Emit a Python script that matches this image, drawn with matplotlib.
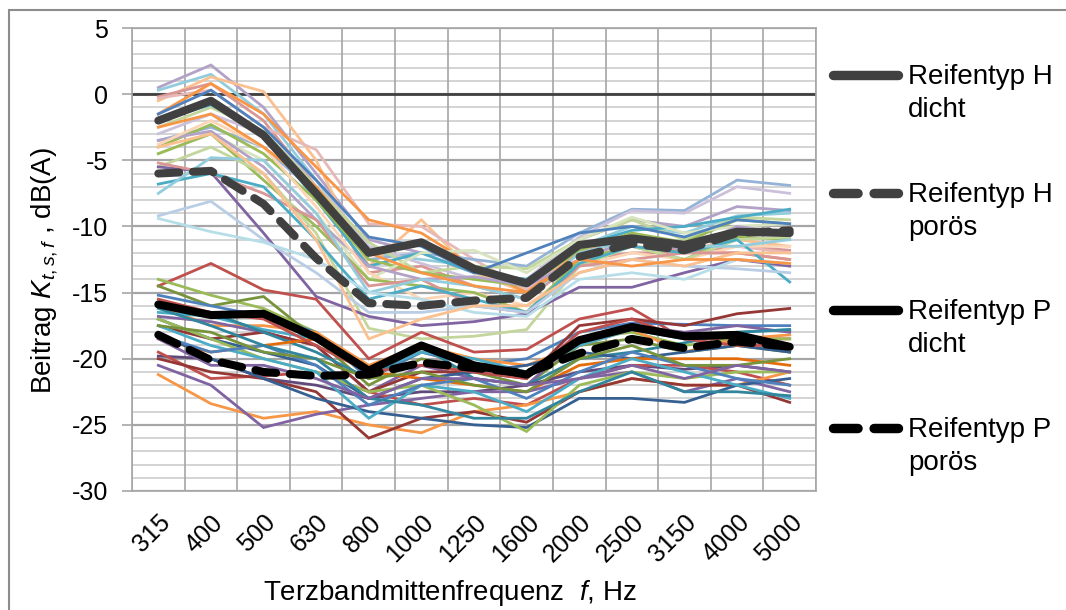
import matplotlib
matplotlib.use("Agg")
import matplotlib.pyplot as plt
from matplotlib.lines import Line2D
from matplotlib.patches import Rectangle
import numpy as np

plt.rcParams['font.family'] = ['Liberation Sans', 'DejaVu Sans']
plt.rcParams['mathtext.fontset'] = 'custom'
plt.rcParams['mathtext.it'] = 'Liberation Sans:italic'
plt.rcParams['mathtext.rm'] = 'Liberation Sans'

freqs = ["315", "400", "500", "630", "800", "1000", "1250", "1600",
         "2000", "2500", "3150", "4000", "5000"]

# individual tyre/surface spectra, tyre type H
h_curves = [
    ("#B3A2C7", [0.5, 2.2, -1.0, -6.0, -11.0, -12.0, -13.5, -14.0, -11.0, -9.5, -10.0, -8.5, -8.8]),
    ("#93CDDD", [0.3, 1.5, -1.5, -6.5, -12.0, -12.5, -13.0, -14.5, -11.5, -10.0, -10.5, -9.2, -9.0]),
    ("#FAC090", [-0.5, 1.3, 0.2, -5.0, -13.0, -9.5, -13.5, -15.0, -12.0, -11.5, -11.8, -11.0, -11.5]),
    ("#D99694", [-0.2, 0.8, -2.0, -7.0, -13.5, -13.0, -14.5, -15.5, -12.5, -12.0, -12.0, -11.5, -11.8]),
    ("#E6B9B8", [-0.3, 0.3, -2.5, -4.2, -9.8, -10.0, -12.5, -14.8, -12.0, -11.0, -11.5, -11.5, -12.0]),
    ("#F79646", [-1.5, 0.8, -1.5, -5.5, -9.5, -10.5, -13.0, -15.0, -12.0, -10.8, -12.0, -12.0, -12.5]),
    ("#95B3D7", [-3.5, -2.5, -4.0, -7.5, -12.5, -12.0, -12.5, -13.0, -10.5, -8.7, -8.8, -6.5, -6.9]),
    ("#CCC1DA", [-3.0, -1.5, -3.0, -6.5, -11.5, -12.8, -14.0, -14.0, -10.8, -8.8, -9.0, -7.0, -7.5]),
    ("#C3D69B", [-2.5, -1.0, -2.8, -7.0, -11.2, -13.5, -13.0, -13.2, -11.0, -9.5, -11.0, -9.3, -9.5]),
    ("#4BACC6", [-2.0, -0.8, -3.0, -8.0, -13.0, -12.0, -13.5, -14.0, -11.5, -10.3, -10.0, -9.3, -8.7]),
    ("#9BBB59", [-4.0, -2.3, -4.5, -8.0, -12.5, -13.5, -14.0, -14.5, -11.8, -10.5, -11.2, -9.5, -9.8]),
    ("#D7E4BD", [-4.5, -3.0, -5.0, -9.0, -14.0, -12.0, -11.8, -13.5, -11.0, -9.3, -10.5, -10.0, -9.8]),
    ("#B3A2C7", [-3.5, -2.8, -5.5, -9.5, -13.0, -14.0, -13.8, -14.5, -12.5, -11.0, -11.8, -10.0, -10.5]),
    ("#FCD5B5", [-3.8, -2.0, -4.0, -8.5, -13.5, -15.5, -15.0, -16.0, -13.0, -12.0, -12.5, -11.5, -11.5]),
    ("#9BBB59", [-4.5, -3.0, -6.5, -10.0, -14.0, -14.5, -15.0, -16.5, -12.5, -11.5, -12.5, -10.8, -11.0]),
    ("#C3D69B", [-5.5, -4.0, -6.0, -10.5, -17.7, -18.5, -18.3, -17.8, -13.0, -11.5, -12.5, -11.0, -10.8]),
    ("#8064A2", [-5.5, -5.9, -10.5, -15.3, -16.8, -17.5, -17.2, -16.6, -14.6, -14.6, -13.5, -12.5, -13.0]),
    ("#D99694", [-5.2, -6.0, -7.5, -9.5, -14.5, -14.0, -16.0, -16.5, -13.0, -12.5, -12.0, -12.0, -12.5]),
    ("#4BACC6", [-6.8, -6.0, -7.0, -11.0, -15.5, -14.5, -15.5, -16.5, -12.8, -11.5, -12.0, -11.0, -14.2]),
    ("#93CDDD", [-7.5, -4.8, -5.0, -9.0, -15.0, -14.0, -14.5, -15.5, -12.0, -11.0, -11.5, -11.5, -11.0]),
    ("#B9CDE5", [-9.2, -8.1, -11.0, -13.5, -16.5, -16.5, -16.0, -16.5, -13.5, -12.5, -13.0, -13.2, -13.5]),
    ("#B7DEE8", [-9.4, -10.4, -11.2, -12.5, -15.0, -15.5, -16.5, -16.8, -14.0, -13.5, -14.0, -12.5, -12.8]),
    ("#FAC090", [-4.0, -3.0, -6.0, -11.0, -18.5, -17.0, -16.0, -16.0, -13.5, -12.5, -13.0, -12.0, -12.0]),
    ("#F79646", [-2.5, -1.5, -4.0, -7.0, -12.0, -13.5, -14.5, -15.0, -12.5, -13.0, -12.5, -12.5, -12.8]),
    ("#4F81BD", [-1.5, 0.3, -2.5, -6.5, -10.8, -11.5, -13.5, -12.0, -10.5, -10.0, -10.8, -9.5, -9.8]),
]

# individual tyre/surface spectra, tyre type P
p_curves = [
    ("#C0504D", [-14.5, -12.8, -14.8, -15.5, -20.0, -18.0, -19.5, -19.3, -17.0, -16.2, -18.5, -18.5, -18.5]),
    ("#9BBB59", [-14.0, -15.2, -16.2, -18.0, -21.5, -19.5, -20.5, -21.5, -18.5, -18.0, -19.0, -18.5, -18.5]),
    ("#77933C", [-14.5, -16.0, -15.3, -18.5, -22.0, -20.0, -21.0, -22.0, -19.0, -18.5, -19.5, -19.0, -19.5]),
    ("#4F81BD", [-15.2, -16.0, -16.8, -18.0, -21.5, -19.5, -20.5, -20.0, -18.0, -17.3, -17.4, -17.5, -17.5]),
    ("#F79646", [-16.0, -17.5, -17.5, -18.0, -20.5, -19.0, -20.0, -20.5, -19.0, -17.8, -19.5, -18.5, -18.2]),
    ("#4BACC6", [-16.5, -16.8, -17.8, -18.5, -21.0, -19.5, -20.0, -21.0, -19.0, -17.8, -18.5, -18.0, -17.8]),
    ("#8064A2", [-16.8, -17.2, -18.0, -19.0, -22.5, -20.5, -21.5, -22.0, -18.5, -17.5, -18.0, -17.5, -18.0]),
    ("#953735", [-17.5, -18.5, -18.0, -19.0, -22.5, -21.0, -21.0, -21.5, -17.5, -17.0, -17.5, -16.6, -16.2]),
    ("#31859C", [-16.0, -16.5, -18.0, -19.5, -21.5, -19.0, -21.5, -22.0, -20.0, -19.5, -18.8, -18.0, -17.8]),
    ("#376092", [-17.0, -18.5, -19.5, -20.5, -23.0, -21.5, -21.0, -20.5, -19.5, -20.0, -19.5, -19.0, -19.5]),
    ("#E46C0A", [-18.5, -19.5, -19.0, -18.5, -21.0, -21.5, -22.0, -22.5, -20.5, -20.0, -20.0, -20.0, -20.5]),
    ("#604A7B", [-19.8, -20.0, -21.5, -22.0, -23.0, -22.5, -22.5, -22.0, -21.0, -20.5, -20.8, -20.5, -21.0]),
    ("#C0504D", [-19.5, -21.5, -21.3, -21.0, -22.5, -23.5, -23.0, -23.5, -21.5, -20.5, -20.5, -21.0, -22.0]),
    ("#F79646", [-21.2, -23.4, -24.5, -24.0, -25.0, -25.6, -24.0, -23.5, -22.5, -21.5, -22.0, -22.0, -21.0]),
    ("#8064A2", [-20.5, -22.0, -25.2, -24.2, -23.5, -23.0, -22.5, -22.5, -21.5, -21.0, -22.5, -21.5, -22.5]),
    ("#953735", [-20.0, -21.0, -21.5, -22.5, -26.0, -24.5, -24.0, -24.8, -22.5, -21.5, -22.0, -22.0, -23.3]),
    ("#376092", [-18.0, -20.0, -21.5, -23.0, -24.0, -24.5, -25.0, -25.2, -23.0, -23.0, -23.3, -22.0, -21.5]),
    ("#9BBB59", [-17.0, -18.5, -20.0, -21.0, -22.5, -22.0, -23.5, -25.5, -22.0, -21.0, -21.5, -21.0, -21.0]),
    ("#4BACC6", [-17.5, -19.0, -20.0, -21.0, -24.5, -22.0, -22.5, -24.0, -21.5, -20.0, -21.0, -22.0, -23.0]),
    ("#4F81BD", [-18.2, -19.5, -19.0, -20.5, -23.5, -22.0, -21.5, -23.0, -21.0, -19.5, -20.5, -21.5, -22.0]),
    ("#C0504D", [-15.5, -16.5, -17.0, -19.0, -21.0, -20.5, -21.0, -21.5, -18.0, -17.0, -18.5, -19.0, -19.0]),
    ("#77933C", [-17.5, -18.0, -19.5, -20.0, -21.5, -21.0, -22.0, -22.5, -20.0, -19.0, -20.5, -20.5, -20.0]),
    ("#31859C", [-16.2, -17.5, -19.0, -20.0, -23.0, -23.5, -24.5, -24.5, -22.5, -21.0, -22.5, -22.5, -22.8]),
    ("#8064A2", [-18.5, -20.5, -20.5, -21.5, -23.0, -21.5, -21.5, -22.0, -21.5, -20.5, -21.5, -20.5, -21.0]),
]

# mean spectra
h_dicht = [-2.0, -0.5, -3.1, -7.5, -12.0, -11.2, -13.2, -14.3, -11.4, -10.9, -11.4, -10.4, -10.5]
h_poroes = [-6.0, -5.8, -8.3, -12.4, -15.8, -16.0, -15.6, -15.4, -12.3, -11.3, -11.8, -10.5, -10.3]
p_dicht = [-15.9, -16.7, -16.6, -18.4, -20.9, -19.0, -20.5, -21.2, -18.6, -17.6, -18.3, -18.2, -19.1]
p_poroes = [-18.2, -20.1, -21.0, -21.3, -21.2, -20.3, -20.7, -21.1, -19.6, -18.5, -19.2, -18.7, -19.1]

legend_labels = [("Reifentyp H", "dicht"), ("Reifentyp H", "porös"),
                 ("Reifentyp P", "dicht"), ("Reifentyp P", "porös")]

W, H = 1066, 610
fig = plt.figure(figsize=(W / 100, H / 100), dpi=100)
ax = fig.add_axes([132 / W, 1 - 491 / H, (816 - 132) / W, (491 - 28) / H])

x = np.arange(len(freqs))

# grid
for yv in range(-30, 6):
    major = (yv % 5 == 0)
    ax.axhline(yv, color="#A6A6A6" if major else "#D4D4D4",
               lw=1.6 if major else 1.4, zorder=0)
for xb in np.arange(-0.5, len(freqs), 1.0):
    ax.axvline(xb, color="#A6A6A6", lw=1.2, zorder=0)
ax.axhline(0, color="#404040", lw=2.0, zorder=1)

for col, vals in h_curves:
    ax.plot(x, vals, color=col, lw=2.0, solid_joinstyle="miter", zorder=2)
for col, vals in p_curves:
    ax.plot(x, vals, color=col, lw=2.0, solid_joinstyle="miter", zorder=2)

thick = 5.8
dash = (2.6, 1.7)
styles = [
    dict(color="#404040", ls="-"),
    dict(color="#404040", dashes=dash),
    dict(color="#000000", ls="-"),
    dict(color="#000000", dashes=dash),
]
for vals, st in zip([h_dicht, h_poroes, p_dicht, p_poroes], styles):
    ax.plot(x, vals, lw=thick, solid_capstyle="round", dash_capstyle="round",
            solid_joinstyle="round", dash_joinstyle="round", zorder=3, **st)

ax.set_xlim(-0.5, len(freqs) - 0.5)
ax.set_ylim(-30, 5)
ax.set_yticks(range(-30, 6, 5))
ax.set_yticklabels([str(v) for v in range(-30, 6, 5)], fontsize=18)
ax.set_xticks(x)
ax.set_xticklabels(freqs, rotation=45, ha="right", va="top", rotation_mode="anchor", fontsize=18)
ax.tick_params(axis="x", length=0, pad=14)
ax.tick_params(axis="y", length=7, width=1.2, color="#A6A6A6", pad=10)
for sp in ax.spines.values():
    sp.set_color("#A6A6A6")
    sp.set_linewidth(1.2)

ax.set_ylabel(r"Beitrag $K_{t,s,f}$ , dB(A)", fontsize=20)
ax.yaxis.set_label_coords((45 - 132) / 684, 0.477)
ax.set_xlabel(r"Terzbandmittenfrequenz  $f$, Hz", fontsize=20)
ax.xaxis.set_label_coords((450 - 132) / 684, (491 - 593) / 463)
ax.xaxis.label.set_va("center")
ax.yaxis.label.set_va("center")

# legend
leg_y = [75, 193, 310, 428]
for yy, st, (l1, l2) in zip(leg_y, styles, legend_labels):
    yf = 1 - yy / H
    ln = Line2D([833 / W, 898 / W], [yf, yf], transform=fig.transFigure,
                lw=thick + 1, solid_capstyle="round", dash_capstyle="round", **st)
    fig.add_artist(ln)
    fig.text(908 / W, 1 - (yy + 9) / H, l1, fontsize=20, va="baseline", ha="left")
    fig.text(908 / W, 1 - (yy + 42) / H, l2, fontsize=20, va="baseline", ha="left")

# chart border
fig.add_artist(Rectangle((9 / W, -0.1), 1.2, 1.1 - 10 / H, transform=fig.transFigure,
                         fill=False, edgecolor="#8C8C8C", lw=1.5))

fig.savefig("out.png", dpi=100)
